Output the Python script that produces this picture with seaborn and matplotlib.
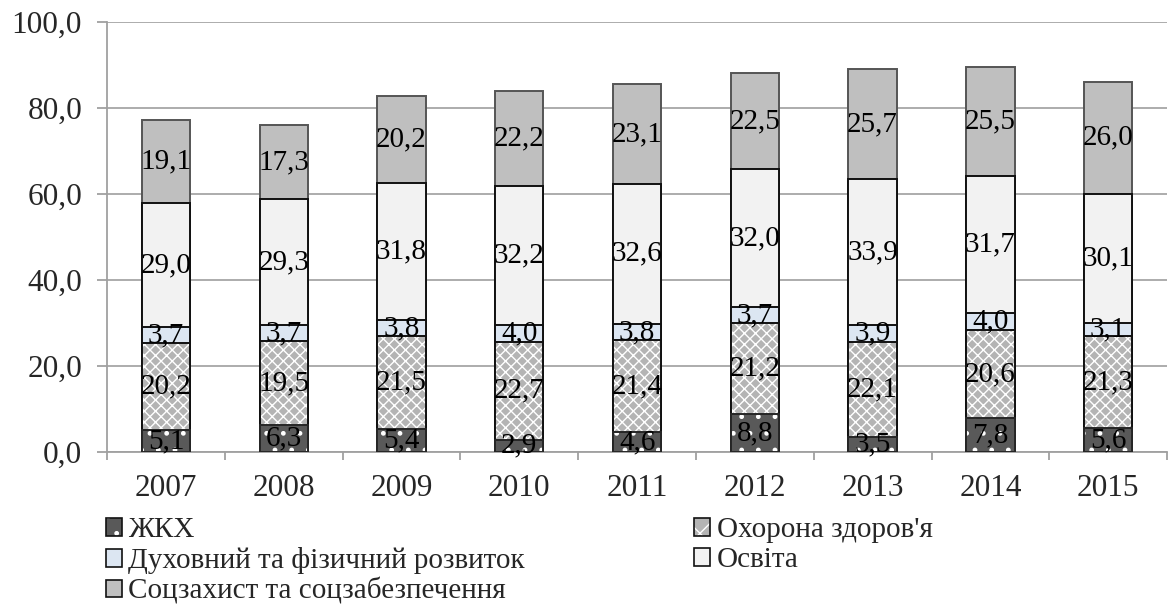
import numpy as np
import pandas as pd
import matplotlib
matplotlib.use("Agg")
import matplotlib.pyplot as plt
import matplotlib.colors as mcolors
from matplotlib.patches import Patch
from matplotlib.ticker import FuncFormatter, FixedLocator
import seaborn as sns

years = ["2007", "2008", "2009", "2010", "2011", "2012", "2013", "2014", "2015"]
zhkh = [5.1, 6.3, 5.4, 2.9, 4.6, 8.8, 3.5, 7.8, 5.6]
okhorona = [20.2, 19.5, 21.5, 22.7, 21.4, 21.2, 22.1, 20.6, 21.3]
dukhovnyi = [3.7, 3.7, 3.8, 4.0, 3.8, 3.7, 3.9, 4.0, 3.1]
osvita = [29.0, 29.3, 31.8, 32.2, 32.6, 32.0, 33.9, 31.7, 30.1]
sotszakhyst = [19.1, 17.3, 20.2, 22.2, 23.1, 22.5, 25.7, 25.5, 26.0]

series_names = ["ЖКХ", "Охорона здоров'я", "Духовний та фізичний розвиток",
                "Освіта", "Соцзахист та соцзабезпечення"]
series_vals = [zhkh, okhorona, dukhovnyi, osvita, sotszakhyst]
face = ["#595959", "#b4b4b4", "#dce6f2", "#f2f2f2", "#bfbfbf"]
edge = ["#262626", "#111111", "#111111", "#111111", "#555555"]
hatches = [".", "xxx", None, None, None]

FONT = "Liberation Serif"
sns.set_theme(style="white")
plt.rcParams["font.family"] = "serif"
plt.rcParams["font.serif"] = [FONT, "DejaVu Serif"]
plt.rcParams["hatch.linewidth"] = 1.0


def white_hatch(p):
    try:
        p.set_hatchcolor("white")
    except AttributeError:
        p._hatch_color = mcolors.to_rgba("white")


fig = plt.figure(figsize=(11.7, 6.1), dpi=100)
ax = fig.add_axes([0.0915, 0.259, 0.906, 0.705])

vals = np.array(series_vals)
cum = np.cumsum(vals, axis=0)
bottoms = cum - vals

# draw cumulative bars from the top layer down; each lower layer covers the rest
for i in range(len(series_names) - 1, -1, -1):
    df = pd.DataFrame({"year": years, "value": cum[i]})
    n_before = len(ax.patches)
    kw = {}
    if hatches[i]:
        kw["hatch"] = hatches[i]
    sns.barplot(data=df, x="year", y="value", order=years, color=face[i],
                saturation=1, width=0.41, edgecolor=edge[i], linewidth=1.4,
                ax=ax, zorder=3, **kw)
    for p in ax.patches[n_before:]:
        p.set_facecolor(face[i])
        if hatches[i]:
            white_hatch(p)

for i in range(len(series_names)):
    for j in range(len(years)):
        v = vals[i, j]
        ax.text(j, bottoms[i, j] + v / 2, f"{v:.1f}".replace(".", ","),
                ha="center", va="center", fontsize=21, color="black", zorder=5,
                family=FONT)

ax.set_ylim(0, 100)
ax.set_xlim(-0.5, len(years) - 0.5)
ax.set_yticks(np.arange(0, 101, 20))
ax.yaxis.set_major_formatter(FuncFormatter(lambda v, p: f"{v:.1f}".replace(".", ",")))
ax.grid(axis="y", color="#a6a6a6", linewidth=1.3, zorder=0)
ax.set_axisbelow(True)
ax.set_xlabel("")
ax.set_ylabel("")

for s in ["top", "right"]:
    ax.spines[s].set_visible(False)
for s in ["left", "bottom"]:
    ax.spines[s].set_color("#a0a0a0")
    ax.spines[s].set_linewidth(1.3)

ax.tick_params(axis="y", which="major", direction="out", length=7, width=1.3,
               color="#a0a0a0", labelsize=22.5, pad=11, left=True)
ax.tick_params(axis="x", which="major", length=0, labelsize=22.5, pad=16)
for lbl in ax.get_xticklabels() + ax.get_yticklabels():
    lbl.set_family(FONT)
ax.xaxis.set_minor_locator(FixedLocator(np.arange(-0.5, len(years), 1.0)))
ax.tick_params(axis="x", which="minor", direction="out", length=5.5, width=1.3,
               color="#a0a0a0", bottom=True)

handles = []
for i in range(len(series_names)):
    h = Patch(facecolor=face[i], edgecolor="#111111", linewidth=1.2,
              hatch=(hatches[i][0] if hatches[i] else None), label=series_names[i])
    if hatches[i]:
        white_hatch(h)
    handles.append(h)
order = [0, 2, 4, 1, 3]
fig.legend([handles[k] for k in order], [series_names[k] for k in order],
           ncol=2, loc="upper left", bbox_to_anchor=(0.0906, 0.152),
           frameon=False, prop={"family": FONT, "size": 21},
           handlelength=0.55, handleheight=0.55,
           handletextpad=0.22, labelspacing=0.13, columnspacing=5.8,
           borderaxespad=0, borderpad=0)

fig.savefig("out.png", dpi=100)
